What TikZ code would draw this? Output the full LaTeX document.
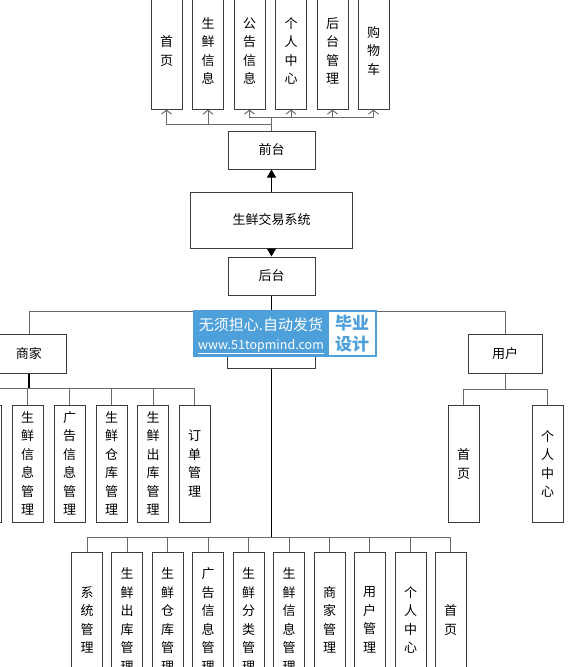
\documentclass[tikz,border=0pt]{standalone}
\usepackage{fontspec}
\setmainfont{Noto Sans CJK SC}
\usetikzlibrary{arrows.meta}
\definecolor{boxline}{RGB}{60,60,60}
\definecolor{wireline}{RGB}{105,105,105}
\definecolor{wmblue}{RGB}{78,160,218}
\tikzset{
  hbox/.style={draw=boxline,line width=1pt,fill=white,inner sep=0pt,font=\fontsize{13}{18.5}\selectfont},
  vbox/.style={hbox,minimum width=31pt,align=center},
  topv/.style={vbox,minimum height=116pt},
  midv/.style={vbox,minimum height=117pt},
  lowv/.style={vbox,minimum height=136pt},
  wire/.style={draw=wireline,line width=1pt},
  mainwire/.style={draw=black,line width=1pt},
  upflow/.style={wire,-{Straight Barb[length=4pt,width=10pt]}},
  triflow/.style={mainwire,-{Triangle[length=8pt,width=9pt]}},
  wmtext/.style={text=white,inner sep=0pt,font=\fontsize{15}{17}\selectfont}
}
\begin{document}
\begin{tikzpicture}[x=1pt,y=-1pt]
  \useasboundingbox (0,0) rectangle (570,667);
  \clip (0,0) rectangle (570,667);
  % front end
  \node[topv] (f1) at (166.5,51) {首\\页};
  \node[topv] (f2) at (208,51) {生\\鲜\\信\\息};
  \node[topv] (f3) at (249.5,51) {公\\告\\信\\息};
  \node[topv] (f4) at (291,51) {个\\人\\中\\心};
  \node[topv] (f5) at (332.5,51) {后\\台\\管\\理};
  \node[topv] (f6) at (373.5,51) {购\\物\\车};
  \node[hbox,minimum width=87pt,minimum height=38pt] (front) at (271.5,150) {前台};
  \coordinate (fa) at (271.5,124);
  \coordinate (fb) at (271.5,117);
  \draw[wire] (front.north) -- (fb);
  \draw[upflow] (fa) -| (f1.south);
  \draw[upflow] (fa) -| (f2.south);
  \foreach \i in {3,...,6} \draw[upflow] (fb) -| (f\i.south);
  % system
  \node[hbox,minimum width=162pt,minimum height=56pt] (sys) at (271.5,220) {生鲜交易系统};
  \node[hbox,minimum width=87pt,minimum height=38pt] (back) at (271.5,276) {后台};
  \draw[triflow] (sys.north) -- (front.south);
  \draw[triflow] (sys.south) -- (back.north);
  % roles
  \node[hbox,minimum width=74pt,minimum height=39pt] (shop) at (29,353.5) {商家};
  \node[hbox,minimum width=88pt,minimum height=38pt] (admin) at (271.5,349) {};
  \node[hbox,minimum width=74pt,minimum height=39pt] (user) at (505,353.5) {用户};
  \coordinate (rb) at (271.5,311);
  \draw[mainwire] (back.south) -- (rb) -- (admin.north);
  \draw[wire] (rb) -| (shop.north);
  \draw[wire] (rb) -| (user.north);
  % shop side
  \node[midv] (s0) at (-14.5,463.5) {};
  \node[midv] (s1) at (27.5,463.5) {生\\鲜\\信\\息\\管\\理};
  \node[midv] (s2) at (69.5,463.5) {广\\告\\信\\息\\管\\理};
  \node[midv] (s3) at (111.5,463.5) {生\\鲜\\仓\\库\\管\\理};
  \node[midv] (s4) at (153,463.5) {生\\鲜\\出\\库\\管\\理};
  \node[midv] (s5) at (194.5,463.5) {订\\单\\管\\理};
  \coordinate (sb) at (29,388);
  \draw[mainwire,line width=2pt] (shop.south) -- (sb);
  \foreach \i in {0,...,5} \draw[wire] (sb) -| (s\i.north);
  % user side
  \node[midv] (u1) at (463.5,464) {首\\页};
  \node[midv] (u2) at (547.5,464) {个\\人\\中\\心};
  \coordinate (ub) at (505,389);
  \draw[wire] (user.south) -- (ub);
  \draw[wire] (ub) -| (u1.north);
  \draw[wire] (ub) -| (u2.north);
  % admin side
  \node[lowv] (a1) at (87,620) {系\\统\\管\\理};
  \node[lowv] (a2) at (127,620) {生\\鲜\\出\\库\\管\\理};
  \node[lowv] (a3) at (167.5,620) {生\\鲜\\仓\\库\\管\\理};
  \node[lowv] (a4) at (208,620) {广\\告\\信\\息\\管\\理};
  \node[lowv] (a5) at (248.5,620) {生\\鲜\\分\\类\\管\\理};
  \node[lowv] (a6) at (289,620) {生\\鲜\\信\\息\\管\\理};
  \node[lowv] (a7) at (329.5,620) {商\\家\\管\\理};
  \node[lowv] (a8) at (369.5,620) {用\\户\\管\\理};
  \node[lowv] (a9) at (410.5,620) {个\\人\\中\\心};
  \node[lowv] (a10) at (450.5,620) {首\\页};
  \coordinate (ab) at (271.5,537);
  \draw[mainwire] (admin.south) -- (ab);
  \foreach \i in {1,...,10} \draw[wire] (ab) -| (a\i.north);
  % watermark
  \node[fill=wmblue,inner sep=0pt,minimum width=184pt,minimum height=47pt] (wm) at (285,333.5) {};
  \node[fill=white,inner sep=0pt,minimum width=46pt,minimum height=43pt] (wmbox) at (352,333.5) {};
  \node[wmtext] (wm1) at (261,324.5) {无须担心.自动发货};
  \node[wmtext,font=\fontsize{12.5}{14}\selectfont] (wm2) at (261,346.5) {\underline{www.51topmind.com}};
  \node[wmtext,text=wmblue,font=\bfseries\fontsize{17}{20}\selectfont] (wm3) at (352,323) {毕业};
  \node[wmtext,text=wmblue,font=\bfseries\fontsize{17}{20}\selectfont] (wm4) at (352,344) {设计};
\end{tikzpicture}
\end{document}
